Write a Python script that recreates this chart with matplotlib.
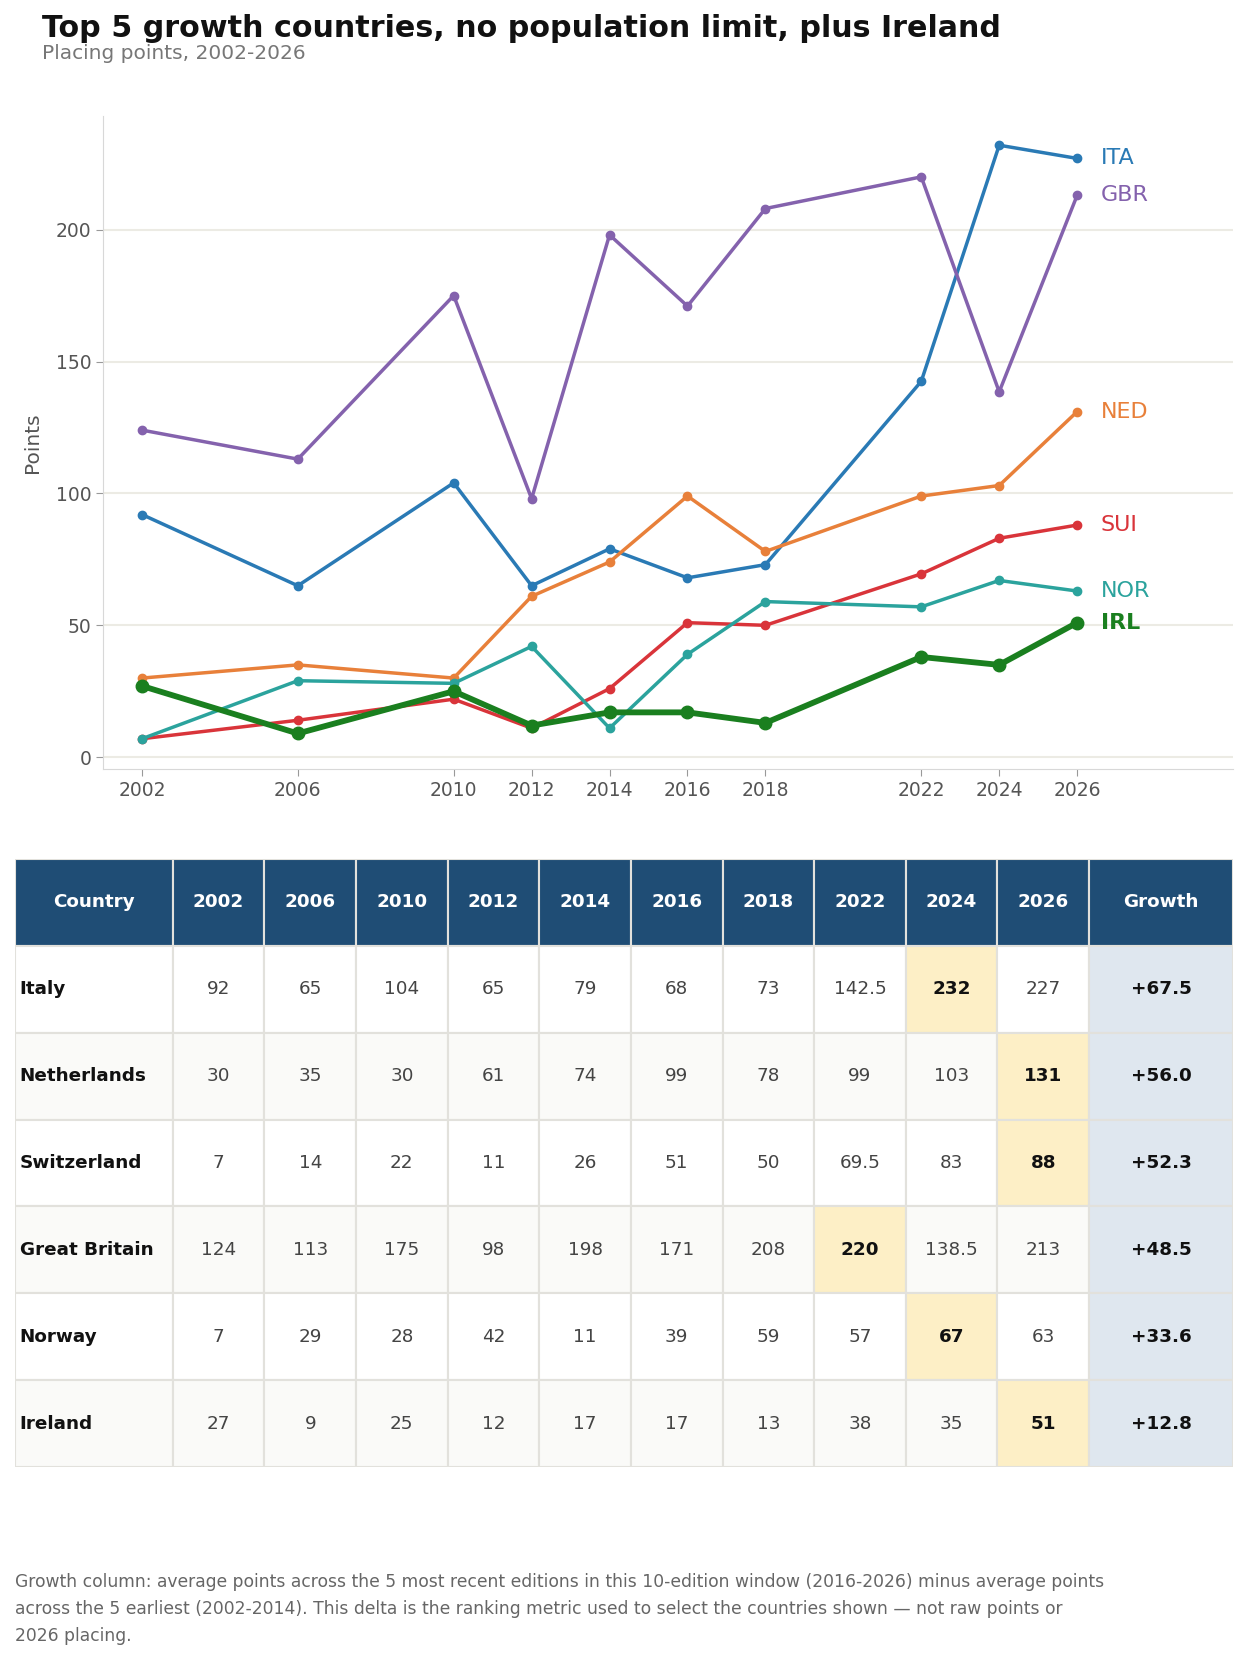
import matplotlib
matplotlib.use("Agg")
from matplotlib import pyplot as plt
from matplotlib.patches import Rectangle

years = [2002, 2006, 2010, 2012, 2014, 2016, 2018, 2022, 2024, 2026]

countries = ["Italy", "Netherlands", "Switzerland", "Great Britain", "Norway", "Ireland"]
codes = ["ITA", "NED", "SUI", "GBR", "NOR", "IRL"]

ita = [92, 65, 104, 65, 79, 68, 73, 142.5, 232, 227]
ned = [30, 35, 30, 61, 74, 99, 78, 99, 103, 131]
sui = [7, 14, 22, 11, 26, 51, 50, 69.5, 83, 88]
gbr = [124, 113, 175, 98, 198, 171, 208, 220, 138.5, 213]
nor = [7, 29, 28, 42, 11, 39, 59, 57, 67, 63]
irl = [27, 9, 25, 12, 17, 17, 13, 38, 35, 51]
series = [ita, ned, sui, gbr, nor, irl]

growth = ["+67.5", "+56.0", "+52.3", "+48.5", "+33.6", "+12.8"]

colors = {"ITA": "#2a7ab5", "NED": "#e8803a", "SUI": "#d9343a",
          "GBR": "#8462ad", "NOR": "#2ba39d", "IRL": "#1a7f1f"}

fig = plt.figure(figsize=(12.5, 16.6), dpi=100)

fig.text(0.034, 0.983, "Top 5 growth countries, no population limit, plus Ireland",
         fontsize=21.7, fontweight="bold", va="center", ha="left", color="#111111")
fig.text(0.034, 0.968, "Placing points, 2002-2026", fontsize=14.5, va="center",
         ha="left", color="#777777")

# line chart
ax = fig.add_axes([0.0824, 0.5367, 0.904, 0.3933])
for code, vals in zip(codes, series):
    if code == "IRL":
        ax.plot(years, vals, color=colors[code], lw=4.2, marker="o", ms=9, zorder=4)
        ax.text(2026.6, vals[-1], code, color=colors[code], fontsize=16,
                fontweight="bold", va="center")
    else:
        ax.plot(years, vals, color=colors[code], lw=2.5, marker="o", ms=6, zorder=3)
        ax.text(2026.6, vals[-1], code, color=colors[code], fontsize=16, va="center")

ax.set_xlim(2001, 2030)
ax.set_ylim(-4.5, 243)
ax.set_xticks(years)
ax.set_yticks([0, 50, 100, 150, 200])
ax.tick_params(labelsize=13.5, colors="#555555", length=5)
ax.tick_params(axis="x", color="#999999")
ax.tick_params(axis="y", color="#999999")
ax.set_ylabel("Points", fontsize=14.5, color="#555555", labelpad=10)
ax.grid(axis="y", color="#ecebe4", lw=1.5)
ax.set_axisbelow(True)
for s in ["top", "right"]:
    ax.spines[s].set_visible(False)
for s in ["left", "bottom"]:
    ax.spines[s].set_color("#d8d8d8")

# table
tax = fig.add_axes([0.012, 0.1163, 0.9744, 0.3662])
tax.set_xlim(0, 1)
tax.set_ylim(0, 1)
tax.axis("off")

col_w = [0.1295] + [0.0752] * 10 + [0.1182]
edges = [0]
for w in col_w:
    edges.append(edges[-1] + w)
scale = 1.0 / edges[-1]
edges = [e * scale for e in edges]
n_rows = len(countries) + 1
rh = 1.0 / n_rows

header = ["Country"] + [str(y) for y in years] + ["Growth"]
border = "#e2e1dc"
fs = 13.2


def cell(c, r, face):
    tax.add_patch(Rectangle((edges[c], 1 - (r + 1) * rh), edges[c + 1] - edges[c], rh,
                            facecolor=face, edgecolor=border, lw=1.5))


for c, h in enumerate(header):
    cell(c, 0, "#1f4d75")
    tax.text((edges[c] + edges[c + 1]) / 2, 1 - 0.5 * rh, h, color="white",
             fontsize=fs, fontweight="bold", ha="center", va="center")

for i, (name, vals) in enumerate(zip(countries, series)):
    r = i + 1
    yc = 1 - (r + 0.5) * rh
    base = "#ffffff" if i % 2 == 0 else "#fafaf8"
    cell(0, r, base)
    tax.text(edges[0] + 0.004, yc, name, fontsize=fs, fontweight="bold",
             ha="left", va="center", color="#111111")
    best = max(vals)
    for j, v in enumerate(vals):
        c = j + 1
        hi = v == best
        cell(c, r, "#fdefc6" if hi else base)
        txt = f"{v:g}"
        tax.text((edges[c] + edges[c + 1]) / 2, yc, txt, fontsize=fs,
                 fontweight="bold" if hi else "normal", ha="center", va="center",
                 color="#111111" if hi else "#444444")
    c = len(header) - 1
    cell(c, r, "#dfe7ef")
    tax.text((edges[c] + edges[c + 1]) / 2, yc, growth[i], fontsize=fs,
             fontweight="bold", ha="center", va="center", color="#111111")

note = ("Growth column: average points across the 5 most recent editions in this 10-edition window "
        "(2016-2026) minus average points\nacross the 5 earliest (2002-2014). This delta is the "
        "ranking metric used to select the countries shown \u2014 not raw points or\n2026 placing.")
fig.text(0.012, 0.0307, note, fontsize=12.3, color="#666666", ha="left", va="center",
         linespacing=1.65)

fig.savefig("out.png", dpi=100)
